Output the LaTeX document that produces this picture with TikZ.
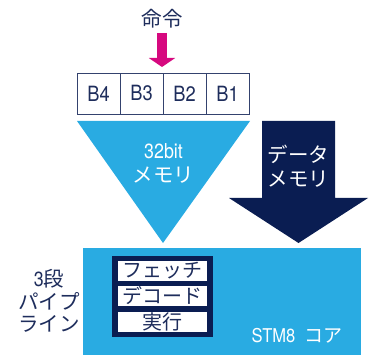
\documentclass[tikz,border=0pt]{standalone}
\usepackage{fontspec}
\setmainfont{TeX Gyre Heros}[FakeStretch=0.87]
\newfontfamily\jp{Noto Sans CJK JP}
\usetikzlibrary{arrows.meta}
\definecolor{skyblue}{HTML}{29ABE2}
\definecolor{navy}{HTML}{0A1D52}
\definecolor{txtnavy}{HTML}{1E2D5C}
\definecolor{magent}{HTML}{D6097F}
\definecolor{boxline}{HTML}{34426E}
\begin{document}
\begin{tikzpicture}[x=1pt,y=-1pt,
  cell/.style={draw=boxline,line width=0.8pt,fill=white,minimum width=43pt,minimum height=41pt,inner sep=0pt,text=txtnavy,font=\fontsize{21}{21}\selectfont},
  stage/.style={fill=white,minimum width=89pt,minimum height=20pt,inner sep=0pt,text=txtnavy,font=\fontsize{20}{20}\selectfont\jp},
  lbl/.style={inner sep=0pt,align=center,font=\fontsize{20.5}{24}\selectfont}]
\useasboundingbox (0,0) rectangle (369,355);
% title and magenta arrow
\node[lbl,text=txtnavy] (cmd) at (162,19) {\jp 命令};
\coordinate (astart) at (162,33);
\coordinate (aend) at (162,67);
\draw[magent,line width=9.5pt,-{Triangle[width=26pt,length=9pt]}] (astart) -- (aend);
% bytes
\node[cell] (b4) at (98.5,93.5) {B4};
\node[cell] (b3) at (141.5,93.5) {B3};
\node[cell] (b2) at (184.5,93.5) {B2};
\node[cell] (b1) at (227.5,93.5) {B1};
% core
\fill[skyblue] (83,248) rectangle (361,356);
% 32bit triangle
\fill[skyblue] (77,121) -- (250,121) -- (163,243) -- cycle;
\node[lbl,text=white] (mem32) at (163.5,163) {32bit\\{\jp メモリ}};
% data memory arrow
\fill[navy] (262,121) -- (335,121) -- (335,198) -- (368,198) -- (298.5,243) -- (229,198) -- (262,198) -- cycle;
\node[lbl,text=white] (dmem) at (298.5,166) {\jp データ\\\jp メモリ};
% pipeline
\fill[navy] (112,256) rectangle (213,337);
\node[stage] (fetch) at (162.5,271) {フェッチ};
\node[stage] (decode) at (162.5,296) {デコード};
\node[stage] (exec) at (162.5,322) {実行};
\node[inner sep=0pt,align=center,text=txtnavy,font=\fontsize{20.5}{22.5}\selectfont] (pipe) at (49,301) {3{\jp 段}\\\jp パイプ\\\jp ライン};
\node[inner sep=0pt,text=white,font=\fontsize{19}{19}\selectfont] (core) at (297,336) {STM8\hspace{9pt}{\jp コア}};
\end{tikzpicture}
\end{document}
